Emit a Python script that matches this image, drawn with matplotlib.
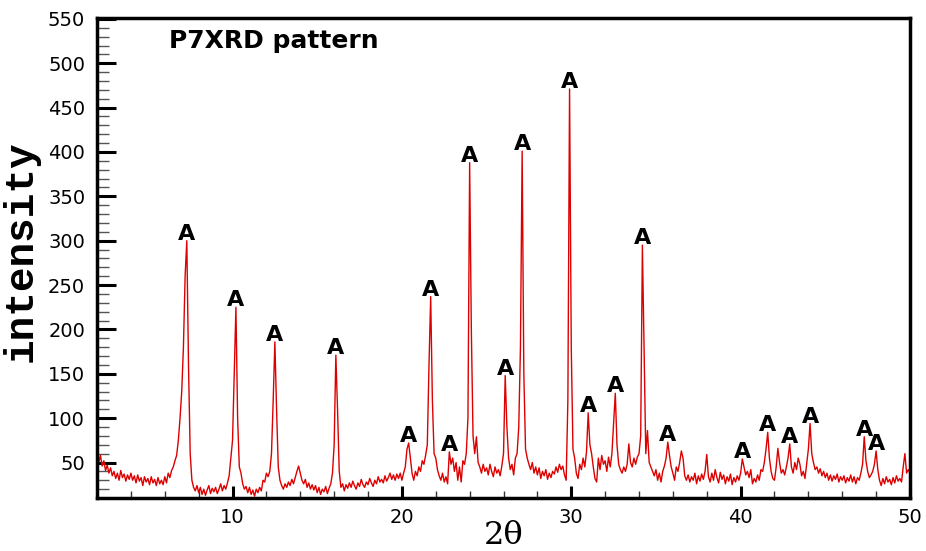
import matplotlib.pyplot as plt
import numpy as np
from matplotlib.ticker import MultipleLocator

plt.rcParams['font.family'] = 'DejaVu Sans'

# 2-theta grid, 0.1 degree steps from 2 to 50
two_theta = np.round(np.arange(2.0, 50.05, 0.1), 1)

# intensity, one line per degree
intensity_02_10 = [
    66, 50, 58, 46, 52, 41, 47, 38, 44, 35,
    40, 32, 38, 30, 41, 33, 37, 29, 36, 31,
    38, 30, 35, 27, 36, 29, 33, 24, 34, 28,
    32, 25, 34, 27, 31, 24, 33, 26, 30, 25,
    34, 27, 38, 33, 41, 45, 52, 58, 75, 100,
    130, 180, 260, 300, 160, 60, 30, 22, 18, 24,
    16, 22, 14, 20, 13, 19, 24, 15, 21, 17,
    22, 15, 20, 26, 18, 24, 20, 27, 35, 55,
]
intensity_10_20 = [
    75, 150, 225, 100, 45, 38, 26, 20, 23, 16,
    22, 14, 19, 12, 20, 16, 22, 18, 30, 28,
    38, 34, 40, 60, 120, 186, 110, 45, 30, 24,
    20, 26, 22, 28, 24, 31, 26, 33, 40, 46,
    38, 30, 26, 31, 22, 27, 20, 25, 19, 24,
    16, 22, 14, 20, 17, 23, 15, 21, 26, 38,
    70, 171, 110, 40, 22, 26, 18, 25, 21, 27,
    22, 29, 24, 20, 27, 23, 31, 25, 22, 28,
    25, 32, 27, 23, 30, 26, 34, 28, 31, 27,
    35, 29, 33, 38, 31, 36, 30, 37, 32, 38,
]
intensity_20_30 = [
    30, 38, 45, 65, 72, 55, 38, 30, 40, 35,
    45, 40, 52, 48, 58, 70, 160, 237, 120, 60,
    55, 42, 35, 30, 38, 28, 34, 26, 62, 48,
    55, 40, 50, 30, 45, 28, 52, 48, 60, 100,
    388, 200, 80, 60, 79, 50, 45, 38, 48, 40,
    44, 36, 48, 40, 34, 45, 38, 42, 35, 46,
    60, 148, 90, 55, 42, 48, 36, 55, 60, 90,
    180, 401, 150, 65, 55, 48, 42, 50, 38, 45,
    36, 44, 32, 40, 35, 42, 31, 38, 33, 40,
    37, 45, 39, 48, 42, 46, 36, 30, 120, 471,
]
intensity_30_40 = [
    180, 65, 55, 38, 32, 48, 42, 55, 45, 62,
    106, 70, 60, 45, 32, 28, 55, 42, 58, 48,
    52, 40, 56, 45, 60, 95, 128, 70, 48, 42,
    38, 45, 40, 48, 71, 50, 45, 55, 48, 56,
    60, 80, 295, 180, 60, 86, 50, 45, 40, 35,
    42, 30, 38, 28, 40, 46, 55, 73, 58, 45,
    38, 30, 45, 40, 50, 63, 55, 35, 30, 36,
    28, 34, 30, 38, 26, 35, 29, 37, 31, 40,
    59, 34, 28, 38, 30, 42, 33, 27, 39, 31,
    36, 26, 34, 29, 37, 25, 33, 28, 35, 30,
]
intensity_40_50 = [
    38, 54, 45, 36, 40, 33, 42, 26, 32, 28,
    36, 30, 42, 40, 50, 65, 84, 55, 40, 32,
    30, 45, 66, 50, 38, 42, 36, 45, 55, 71,
    45, 38, 50, 42, 55, 48, 35, 40, 32, 48,
    65, 94, 60, 50, 42, 45, 38, 43, 35, 40,
    33, 38, 30, 36, 29, 35, 31, 37, 28, 34,
    30, 35, 27, 33, 29, 36, 28, 34, 26, 33,
    30, 38, 48, 79, 52, 40, 33, 36, 40, 48,
    63, 42, 30, 24, 32, 26, 34, 28, 31, 25,
    33, 27, 35, 29, 32, 28, 45, 60, 38, 42,
    38,
]

# peaks marked with "A"
peak_positions = [7.3, 10.2, 12.5, 16.1, 20.4, 21.7, 22.8, 24.0, 26.1, 27.1, 29.9,
                  31.0, 32.6, 34.2, 35.7, 40.1, 41.6, 42.9, 44.1, 47.3, 48.0]
peak_label = 'A'


def main():
    intensity = np.array(intensity_02_10 + intensity_10_20 + intensity_20_30
                         + intensity_30_40 + intensity_40_50, dtype=float)

    fig = plt.figure(figsize=(9.26, 5.51), dpi=100)
    ax = fig.add_axes([0.1048, 0.0962, 0.8779, 0.8711])

    ax.plot(two_theta, intensity, color='#dd0000', linewidth=1.0)

    for p in peak_positions:
        i = np.abs(two_theta - p).argmin()
        ax.text(two_theta[i], intensity[i] + 1, peak_label, ha='center', va='baseline',
                fontsize=16, fontweight='bold')

    ax.text(0.0886, 0.9375, 'P7XRD pattern', transform=ax.transAxes,
            fontsize=18, fontweight='bold', va='baseline', ha='left')

    ax.set_xlim(2, 50)
    ax.set_ylim(10, 551)

    ax.xaxis.set_major_locator(MultipleLocator(10))
    ax.xaxis.set_minor_locator(MultipleLocator(2))
    ax.yaxis.set_minor_locator(MultipleLocator(10))
    ax.set_yticks(np.arange(50, 551, 50))

    for s in ax.spines.values():
        s.set_linewidth(2.5)

    ax.tick_params(axis='y', which='major', direction='in', length=14, width=2.2,
                   labelsize=14, pad=8.5)
    ax.tick_params(axis='y', which='minor', direction='in', length=8.5, width=1.0,
                   color='#555555')
    ax.tick_params(axis='x', which='major', direction='in', length=8.5, width=2.2,
                   labelsize=14, pad=7)
    ax.tick_params(axis='x', which='minor', direction='in', length=5, width=1.0,
                   color='#333333')

    ax.set_xlabel('2θ', family='DejaVu Serif', fontsize=23)
    ax.xaxis.set_label_coords(0.5, -0.045)
    ax.xaxis.label.set_va('top')

    ax.set_ylabel('intensity', family='Liberation Mono', fontweight='bold', fontsize=29.5)
    ax.yaxis.set_label_coords(-0.0935, 0.515)
    ax.yaxis.label.set_va('center')
    ax.yaxis.label.set_ha('center')

    fig.savefig('out.png', dpi=100)


if __name__ == '__main__':
    main()
